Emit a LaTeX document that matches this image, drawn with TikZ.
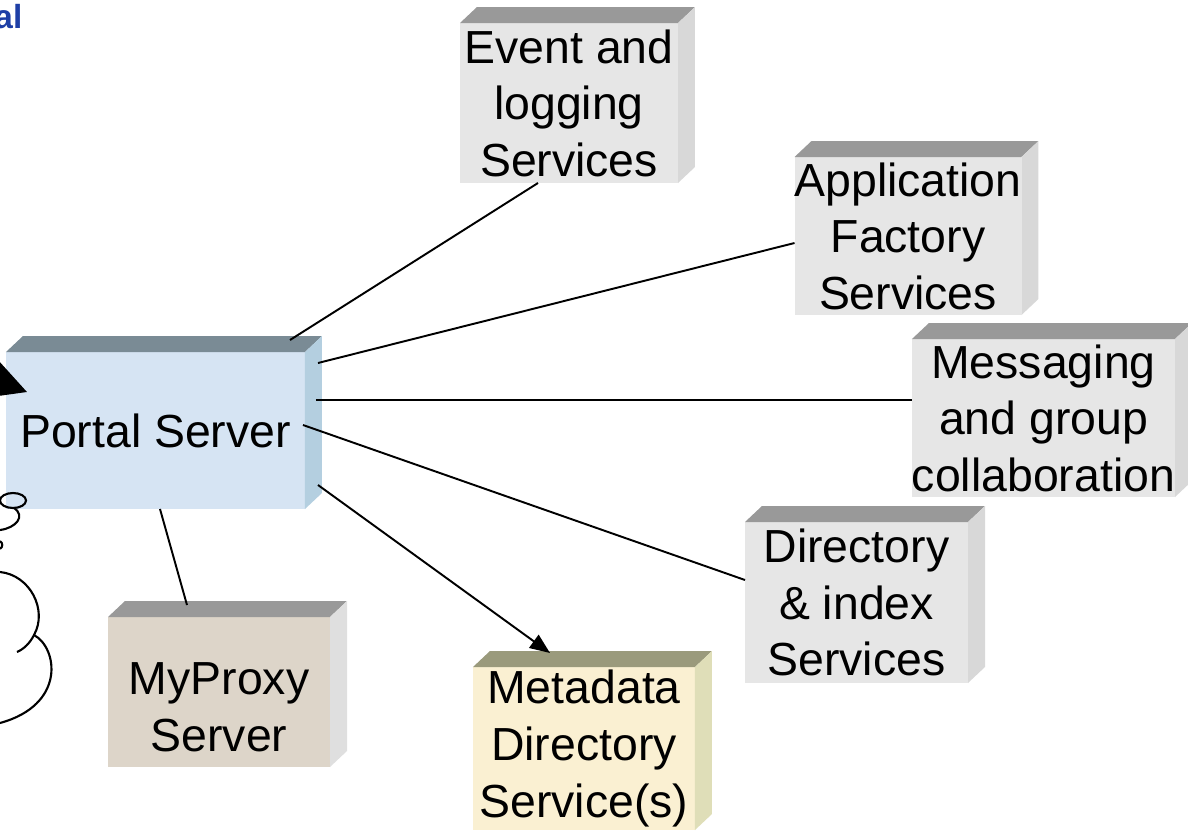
\documentclass[tikz,border=0pt]{standalone}
\usepackage{fontspec}
\setmainfont{Liberation Sans}
\usepackage{xcolor}
\usetikzlibrary{calc,arrows.meta}

\definecolor{granite}{HTML}{E6E6E6}
\definecolor{granitetop}{HTML}{999999}
\definecolor{graniteside}{HTML}{D8D8D8}
\definecolor{portalfront}{HTML}{D6E4F3}
\definecolor{portaltop}{HTML}{7A8B95}
\definecolor{portalside}{HTML}{B4CFE0}
\definecolor{proxyfront}{HTML}{DDD5C9}
\definecolor{proxyside}{HTML}{DFDFDF}
\definecolor{metafront}{HTML}{FAF0D2}
\definecolor{metatop}{HTML}{9A9A7C}
\definecolor{metaside}{HTML}{DFDEB8}
\definecolor{titleblue}{HTML}{1E3FA6}

% top and right faces of a block
\newcommand{\blockdepth}[3]{%
  \fill[#2] (#1.north west) -- ++(0.17,0.16) -- ($(#1.north east)+(0.17,0.16)$) -- (#1.north east) -- cycle;
  \fill[#3] (#1.north east) -- ++(0.17,0.16) -- ($(#1.south east)+(0.17,0.16)$) -- (#1.south east) -- cycle;
}

\tikzset{
  service/.style={fill=#1, inner sep=0pt, outer sep=0pt, align=center,
    font=\fontsize{13.2}{16.1}\selectfont},
  link/.style={line width=0.55pt},
  bubble/.style={line width=0.6pt},
}

\begin{document}
\begin{tikzpicture}
    \useasboundingbox (0,0) rectangle (11.88,8.30);

    \node[anchor=base east, inner sep=0pt, text=titleblue, font=\fontsize{9.5}{11}\selectfont\bfseries] (title) at (0.23,8.02) {al};

    \node[service=granite, minimum width=2.18cm, minimum height=1.60cm] (ev) at (5.69,7.27) {Event and\\logging\\Services};
    \blockdepth{ev}{granitetop}{graniteside}

    \node[service=granite, minimum width=2.22cm, minimum height=1.58cm] (app) at (9.08,5.94) {Application\\Factory\\Services};
    \blockdepth{app}{granitetop}{graniteside}

    \node[service=granite, minimum width=2.59cm, minimum height=1.58cm] (msg) at (10.435,4.12) {Messaging\\and group\\collaboration};
    \blockdepth{msg}{granitetop}{graniteside}

    \node[service=granite, minimum width=2.23cm, minimum height=1.61cm] (dir) at (8.565,2.275) {Directory\\\& index\\Services};
    \blockdepth{dir}{granitetop}{graniteside}

    \node[service=portalfront, minimum width=2.99cm, minimum height=1.57cm] (portal) at (1.555,3.995) {Portal Server};
    \blockdepth{portal}{portaltop}{portalside}

    \node[service=proxyfront, minimum width=2.22cm, minimum height=1.50cm] (proxy) at (2.19,1.38) {\rule{0pt}{0.62cm}MyProxy\\Server};
    \blockdepth{proxy}{granitetop}{proxyside}

    \node[service=metafront, minimum width=2.22cm, minimum height=1.63cm] (meta) at (5.84,0.815) {Metadata\\Directory\\Service(s)};
    \blockdepth{meta}{metatop}{metaside}

    % links from the portal
    \draw[link] ($(portal.north east)+(-0.15,0.12)$) -- ($(ev.south)+(-0.31,0)$);
    \draw[link] ($(portal.north east)+(0.13,-0.11)$) -- ($(app.west)+(0,-0.07)$);
    \draw[link] ($(portal.east)+(0.11,0.305)$) -- ($(msg.west)+(0,0.18)$);
    \draw[link] ($(portal.east)+(-0.02,0.055)$) -- ($(dir.west)+(0,0.225)$);
    \draw[link,-{Triangle[length=0.2cm,width=0.16cm]}] ($(portal.south east)+(0.13,0.24)$) -- ($(meta.north)+(-0.34,0.14)$);
    \draw[link] ($(portal.south)+(0.045,0)$) -- ($(proxy.north)+(-0.32,0.12)$);

    % user arrow coming in from the left
    \coordinate (user) at (-1.19,4.91);
    \draw[line width=1pt, -{Triangle[length=0.50cm,width=0.52cm]}] (user) -- ($(portal.north west)+(0.21,-0.40)$);

    % thought bubble
    \draw[bubble] (0.13,3.295) ellipse [x radius=0.13, y radius=0.075];
    \draw[bubble] (0,3.00) .. controls (0.16,3.02) and (0.26,3.14) .. (0.14,3.22);
    \draw[bubble] (0,2.89) .. controls (0.03,2.87) and (0.03,2.83) .. (0,2.81);
    \draw[bubble] (0,2.58) .. controls (0.30,2.55) and (0.48,2.20) .. (0.34,1.95)
        .. controls (0.30,1.87) and (0.24,1.81) .. (0.17,1.78);
    \draw[bubble] (0.34,1.95) .. controls (0.58,1.82) and (0.66,1.25) .. (0,1.07);
\end{tikzpicture}
\end{document}
